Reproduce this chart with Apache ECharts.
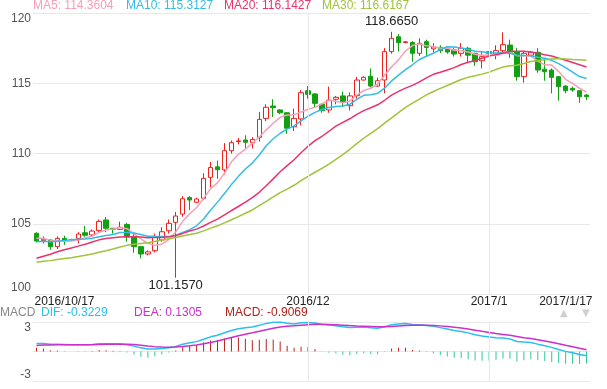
<!DOCTYPE html>
<html><head><meta charset="utf-8">
<script src="https://cdn.jsdelivr.net/npm/echarts@6/dist/echarts.min.js"></script>
<style>html,body{margin:0;padding:0;background:#fff}#c{width:607px;height:389px}</style>
</head><body><div id="c"></div>
<script>
// ---------- data ----------
const dates = [
 '2016/10/17','2016/10/18','2016/10/19','2016/10/20','2016/10/21','2016/10/22',
 '2016/10/24','2016/10/25','2016/10/26','2016/10/27','2016/10/28','2016/10/29',
 '2016/10/31','2016/11/1','2016/11/2','2016/11/3','2016/11/4','2016/11/5',
 '2016/11/7','2016/11/8','2016/11/9','2016/11/10','2016/11/11','2016/11/12',
 '2016/11/14','2016/11/15','2016/11/16','2016/11/17','2016/11/18','2016/11/19',
 '2016/11/21','2016/11/22','2016/11/23','2016/11/24','2016/11/25','2016/11/26',
 '2016/11/28','2016/11/29','2016/11/30','2016/12/1','2016/12/2','2016/12/3',
 '2016/12/5','2016/12/6','2016/12/7','2016/12/8','2016/12/9','2016/12/10',
 '2016/12/12','2016/12/13','2016/12/14','2016/12/15','2016/12/16','2016/12/17',
 '2016/12/19','2016/12/20','2016/12/21','2016/12/22','2016/12/23','2016/12/24',
 '2016/12/27','2016/12/28','2016/12/29','2016/12/30','2016/12/31',
 '2017/1/1','2017/1/2','2017/1/3','2017/1/4','2017/1/5','2017/1/6','2017/1/7',
 '2017/1/9','2017/1/10','2017/1/11','2017/1/12','2017/1/13','2017/1/14',
 '2017/1/16','2017/1/17'
];
const opens = [104.32,103.80,103.84,103.37,103.96,103.85,103.96,104.36,104.20,104.51,105.27,104.68,
 104.60,104.95,104.08,103.37,102.85,103.08,103.85,104.50,105.10,105.69,106.86,106.53,
 106.81,108.30,109.05,108.83,110.20,110.85,110.96,110.77,111.15,112.50,113.38,113.10,
 112.90,111.90,112.46,114.47,114.24,113.50,113.10,113.86,114.10,113.40,114.12,115.23,
 115.50,114.80,115.23,117.25,118.31,117.90,117.90,117.13,117.96,117.45,117.56,117.42,
 117.37,117.13,117.49,117.13,116.60,117.25,117.08,117.32,117.72,117.25,115.47,117.00,
 117.20,116.00,115.94,115.47,114.80,114.64,114.47,114.16];
const closes = [103.77,103.90,103.37,103.96,103.80,103.85,104.27,104.18,104.48,105.17,104.68,104.60,
 104.75,104.05,103.37,102.85,103.00,104.08,104.43,105.03,105.55,106.78,106.69,106.76,
 108.23,109.00,108.85,110.20,110.77,110.90,110.80,111.00,112.43,113.29,113.26,112.90,
 111.80,112.50,114.33,114.21,113.57,113.05,113.80,114.00,113.67,114.10,115.23,115.42,
 114.80,115.18,117.25,118.20,117.89,117.95,117.13,117.84,117.55,117.58,117.32,117.22,
 117.08,117.49,117.00,116.53,116.89,117.13,117.32,117.75,117.13,115.47,117.13,117.20,
 115.94,115.82,115.42,114.76,114.47,114.52,114.04,114.04];
const lows = [103.67,103.60,103.15,103.20,103.50,103.75,103.60,104.08,104.10,104.40,104.40,104.30,
 104.55,103.72,102.94,102.54,102.75,102.95,103.72,104.30,101.157,105.50,105.98,106.45,
 106.70,107.60,108.20,108.50,110.00,110.65,110.40,110.36,110.85,112.30,112.60,112.80,
 111.40,111.60,112.00,113.90,113.30,112.90,112.90,113.50,113.30,113.06,113.90,115.20,
 114.70,114.75,114.30,117.10,117.25,117.85,116.53,116.94,116.90,117.20,117.15,117.10,
 116.90,116.90,116.50,116.23,116.06,117.00,116.70,117.10,116.80,115.18,115.04,116.95,
 115.75,115.18,114.28,113.76,114.28,114.40,113.60,113.80];
const highs = [104.40,104.10,103.90,104.10,104.15,103.95,104.40,104.84,104.60,105.30,105.48,104.70,
 105.15,105.07,104.32,103.40,103.10,104.30,104.75,105.30,105.84,106.97,106.97,106.85,
 108.60,109.40,109.50,110.74,110.93,111.10,111.30,111.16,112.96,113.50,113.86,113.15,
 112.95,113.20,114.52,114.80,114.30,113.55,114.76,114.10,114.40,114.35,115.45,115.50,
 116.05,115.40,117.50,118.665,118.50,118.00,118.00,118.20,118.10,117.85,117.70,117.50,
 117.55,117.86,117.60,117.17,117.25,117.30,117.70,118.62,118.10,117.50,117.25,117.30,
 117.50,116.70,116.06,115.50,114.85,114.76,114.52,114.23];
// closes of the sessions before the first visible candle (feed the moving averages)
const priorCloses = [102.0,101.8,101.5,101.9,102.2,101.7,101.4,101.6,101.5,101.4,
 101.0,100.6,100.4,100.9,101.3,101.6,101.4,101.3,102.2,102.9,
 103.5,103.7,103.7,103.3,103.2,103.9,104.0,104.1,104.03];
const maPeriods = [5, 10, 20, 30];
const maLegendValues = ['114.3604', '115.3127', '116.1427', '116.6167'];
const macdLegendValues = ['-0.3229', '0.1305', '-0.9069'];
const yTicks = [100, 120, 5];           // min, max, step of price axis
const xLabelIdx = [0, 39, 65, 79];
const xGridIdx = [39, 65];
const xLabelText = ['2016/10/17', '2016/12', '2017/1', '2017/1/17'];

// ---------- derived ----------
const all = priorCloses.concat(closes);
const P = priorCloses.length;
function ma(n) {
  return closes.map((_, i) => {
    const k = P + i; let s = 0;
    for (let j = k - n + 1; j <= k; j++) s += all[j];
    return +(s / n).toFixed(4);
  });
}
const maSeries = maPeriods.map(ma);
const dif = [], dea = [], macd = [];
(function () {
  let e12 = all[0], e26 = all[0], d = 0;
  for (let k = 0; k < all.length; k++) {
    if (k > 0) { e12 = e12 * 11 / 13 + all[k] * 2 / 13; e26 = e26 * 25 / 27 + all[k] * 2 / 27; }
    const df = e12 - e26;
    d = k === 0 ? 0 : d * 0.8 + df * 0.2;
    if (k >= P) { dif.push(+df.toFixed(4)); dea.push(+d.toFixed(4)); macd.push(+(2 * (df - d)).toFixed(4)); }
  }
})();
let R = 0; dif.concat(dea).forEach(v => R = Math.max(R, Math.abs(v)));
const kdata = opens.map((o, i) => [o, closes[i], lows[i], highs[i]]);

const maColors = ['#f5a0b8', '#33bde6', '#e8336c', '#9fc33a'];
const gridLine = '#e8e8e8';
const chart = echarts.init(document.getElementById('c'), null, {renderer: 'canvas'});
const vlines = (xi, yi) => ({
  type: 'line', xAxisIndex: xi, yAxisIndex: yi, data: [], z: 0, silent: true,
  markLine: { silent: true, symbol: 'none', label: {show: false}, animation: false,
    lineStyle: {color: gridLine, type: 'solid', width: 1},
    data: xGridIdx.map(i => ({xAxis: dates[i]})) }
});
const legendFont = '12px "Liberation Sans", Arial, sans-serif';
const option = {
  animation: false,
  grid: [
    {left: 33, right: 17, top: 13, height: 281},
    {left: 33, right: 17, top: 322, height: 59}
  ],
  xAxis: [
    {type: 'category', gridIndex: 0, data: dates, boundaryGap: true,
     axisLine: {show: false}, axisTick: {show: false}, splitLine: {show: false},
     axisLabel: {
       interval: (i) => xLabelIdx.includes(i), margin: 2, color: '#222', fontSize: 12,
       fontFamily: '"Liberation Sans", Arial, sans-serif',
       formatter: (v, i) => {
         const k = xLabelIdx.indexOf(i); const t = k >= 0 ? xLabelText[k] : v;
         if (i === 0) return '{f|' + t + '}';
         if (i === dates.length - 1) return '{l|' + t + '}';
         return t;
       },
       rich: {f: {padding: [0, 0, 0, -2]}, l: {padding: [0, -6, 0, 0]}},
       alignMinLabel: 'left', alignMaxLabel: 'right', showMinLabel: true, showMaxLabel: true
     }},
    {type: 'category', gridIndex: 1, data: dates, boundaryGap: true,
     axisLine: {show: false}, axisTick: {show: false}, axisLabel: {show: false}, splitLine: {show: false}}
  ],
  yAxis: [
    {type: 'value', gridIndex: 0, min: yTicks[0], max: yTicks[1], interval: yTicks[2], scale: true,
     axisLine: {show: false}, axisTick: {show: false},
     splitLine: {lineStyle: {color: gridLine}},
     axisLabel: {color: '#555', fontSize: 12, margin: 2, fontFamily: '"Liberation Sans", Arial, sans-serif',
       showMinLabel: true, showMaxLabel: true,
       verticalAlignMaxLabel: 'top', verticalAlignMinLabel: 'bottom'}},
    {type: 'value', gridIndex: 1, min: -R, max: R, interval: R,
     axisLine: {show: false}, axisTick: {show: false},
     splitLine: {lineStyle: {color: gridLine}},
     axisLabel: {color: '#555', fontSize: 12, margin: 2, fontFamily: '"Liberation Sans", Arial, sans-serif',
       showMinLabel: true, showMaxLabel: true,
       verticalAlignMaxLabel: 'top', verticalAlignMinLabel: 'bottom',
       formatter: v => Math.abs(v) < 1e-9 ? '' : (v > 0 ? String(Math.ceil(v)) : '-' + Math.ceil(-v))}}
  ],
  graphic: [
    {type: 'text', x: 33, y: 6, style: {text: 'MA5: ' + maLegendValues[0], fill: maColors[0], font: legendFont, verticalAlign: 'middle'}},
    {type: 'text', x: 126, y: 6, style: {text: 'MA10: ' + maLegendValues[1], fill: maColors[1], font: legendFont, verticalAlign: 'middle'}},
    {type: 'text', x: 224, y: 6, style: {text: 'MA20: ' + maLegendValues[2], fill: maColors[2], font: legendFont, verticalAlign: 'middle'}},
    {type: 'text', x: 322, y: 6, style: {text: 'MA30: ' + maLegendValues[3], fill: maColors[3], font: legendFont, verticalAlign: 'middle'}},
    {type: 'text', x: 0, y: 313, style: {text: 'MACD', fill: '#888', font: legendFont, verticalAlign: 'middle'}},
    {type: 'text', x: 41, y: 313, style: {text: 'DIF: ' + macdLegendValues[0], fill: '#2bbfee', font: legendFont, verticalAlign: 'middle'}},
    {type: 'text', x: 134, y: 313, style: {text: 'DEA: ' + macdLegendValues[1], fill: '#cc2fcc', font: legendFont, verticalAlign: 'middle'}},
    {type: 'text', x: 225, y: 313, style: {text: 'MACD: ' + macdLegendValues[2], fill: '#b3201a', font: legendFont, verticalAlign: 'middle'}},
    {type: 'text', x: 560, y: 313, style: {text: '▲', fill: '#d0d0d0', font: '10px "DejaVu Sans", sans-serif', verticalAlign: 'middle'}},
    {type: 'text', x: 582, y: 313, style: {text: '▼', fill: '#d0d0d0', font: '10px "DejaVu Sans", sans-serif', verticalAlign: 'middle'}}
  ],
  series: [
    vlines(0, 0),
    vlines(1, 1),
    {type: 'candlestick', xAxisIndex: 0, yAxisIndex: 0, data: kdata, barWidth: 5, z: 2,
     itemStyle: {color: '#ffffff', color0: '#12a012', borderColor: '#f0201c', borderColor0: '#12a012',
       borderColorDoji: '#999', borderWidth: 1},
     markPoint: {symbol: 'circle', symbolSize: 0, silent: true, animation: false,
       itemStyle: {color: 'transparent'},
       label: {show: true, color: '#222', fontSize: 13, fontFamily: '"Liberation Sans", Arial, sans-serif',
         formatter: p => Number(p.value).toFixed(4)},
       data: [
         {type: 'max', valueDim: 'highest', label: {position: 'top', distance: 4}},
         {type: 'min', valueDim: 'lowest', label: {position: 'bottom', distance: 1}}
       ]}},
    ...maSeries.map((d, k) => ({
      type: 'line', name: 'MA' + maPeriods[k], xAxisIndex: 0, yAxisIndex: 0, data: d, z: 4,
      showSymbol: false, smooth: false, lineStyle: {color: maColors[k], width: 1.5}, silent: true
    })),
    {type: 'bar', xAxisIndex: 1, yAxisIndex: 1, data: macd, barWidth: 1, z: 2, silent: true,
     itemStyle: {color: p => p.value >= 0 ? '#b8231c' : '#2ec79b'}},
    {type: 'line', xAxisIndex: 1, yAxisIndex: 1, data: dif, showSymbol: false, z: 4, silent: true,
     lineStyle: {color: '#2bbfee', width: 1.5}},
    {type: 'line', xAxisIndex: 1, yAxisIndex: 1, data: dea, showSymbol: false, z: 4, silent: true,
     lineStyle: {color: '#cc2fcc', width: 1.5}}
  ]
};
chart.setOption(option);
</script>
</body></html>
